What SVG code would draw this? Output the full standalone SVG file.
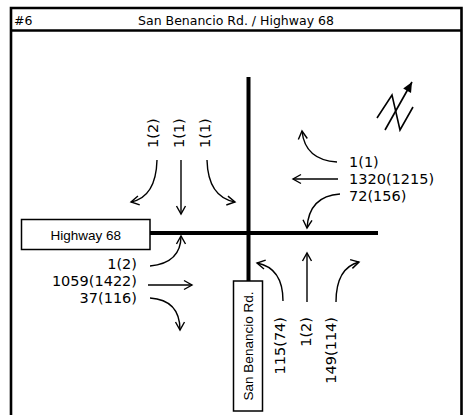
<svg xmlns="http://www.w3.org/2000/svg" width="469" height="415" viewBox="0 0 469 415">
<defs>
<style>
.frame{fill:none;stroke:#000;stroke-width:2.6}
.road{fill:none;stroke:#000;stroke-width:4}
.box{fill:#fff;stroke:#000;stroke-width:1.5}
.arr{fill:none;stroke:#000;stroke-width:1.4;marker-end:url(#ah)}
.vol{font-family:"DejaVu Sans",sans-serif;font-size:14.5px;fill:#000}
.name{font-family:"Liberation Sans",Arial,sans-serif;font-size:13.5px;fill:#000}
.title{font-family:"DejaVu Sans",sans-serif;font-size:12.5px;fill:#000}
</style>
<marker id="ah" viewBox="-10 -6 12 12" refX="0" refY="0" markerWidth="12" markerHeight="12" markerUnits="userSpaceOnUse" orient="auto" overflow="visible">
<path d="M-8,-4.5 L0,0 L-8,4.5" fill="none" stroke="#000" stroke-width="1.4"/>
</marker>
<marker id="nh" viewBox="-12 -6 14 12" refX="0" refY="0" markerWidth="14" markerHeight="12" markerUnits="userSpaceOnUse" orient="auto" overflow="visible">
<path d="M-10,-4.5 L0,0 L-10,4.5 Z" fill="#000"/>
</marker>
</defs>
<rect width="469" height="415" fill="#fff"/>
<g id="frame">
<path class="frame" d="M11,415 V8 H461.5 V415 M11,30.5 H461.5"/>
<text class="title" x="14" y="24.5">#6</text>
<text class="title" x="236" y="24.5" text-anchor="middle">San Benancio Rd. / Highway 68</text>
</g>
<g id="roads">
<path class="road" d="M248.5,77 V281 M150,233 H378"/>
</g>
<g id="highway68">
<rect class="box" x="21.5" y="219.5" width="128.5" height="30"/>
<text class="name" x="85.7" y="239.5" text-anchor="middle">Highway 68</text>
</g>
<g id="sanbenancio">
<rect class="box" x="233.5" y="281" width="29" height="130"/>
<text class="name" transform="translate(253,346) rotate(-90)" text-anchor="middle">San Benancio Rd.</text>
</g>
<g id="north">
<path d="M377,118 L392,95 L400,130 L413,107" fill="none" stroke="#000" stroke-width="1.6"/>
<path d="M385,130 L412,82" fill="none" stroke="#000" stroke-width="1.6" marker-end="url(#nh)"/>
</g>
<g id="connectors">
<path class="arr" d="M157,160 Q156,197 131,202"/>
<path class="arr" d="M181,160 L181,214"/>
<path class="arr" d="M207,160 Q208,197 235,202"/>
<path class="arr" d="M337,162 Q305,160 302,131"/>
<path class="arr" d="M338,179 L293,179"/>
<path class="arr" d="M340,194 Q309,196 307,228"/>
<path class="arr" d="M150,266 Q181,263 181,236"/>
<path class="arr" d="M148,285 L192,285"/>
<path class="arr" d="M150,298 Q180,300 180,330"/>
<path class="arr" d="M283,301 Q283,268 257,263"/>
<path class="arr" d="M307,302 L307,253"/>
<path class="arr" d="M336,302 Q336,268 359,262"/>
</g>
<g id="southbound">
<text class="vol" transform="translate(158,148) rotate(-90)">1(2)</text>
<text class="vol" transform="translate(183.5,148) rotate(-90)">1(1)</text>
<text class="vol" transform="translate(209.5,148) rotate(-90)">1(1)</text>
</g>
<g id="westbound">
<text class="vol" x="349" y="167">1(1)</text>
<text class="vol" x="349" y="184">1320(1215)</text>
<text class="vol" x="349" y="201">72(156)</text>
</g>
<g id="eastbound">
<text class="vol" x="137" y="269" text-anchor="end">1(2)</text>
<text class="vol" x="137" y="286" text-anchor="end">1059(1422)</text>
<text class="vol" x="137" y="303" text-anchor="end">37(116)</text>
</g>
<g id="northbound">
<text class="vol" transform="translate(285,317) rotate(-90)" text-anchor="end">115(74)</text>
<text class="vol" transform="translate(311,317) rotate(-90)" text-anchor="end">1(2)</text>
<text class="vol" transform="translate(336,317) rotate(-90)" text-anchor="end">149(114)</text>
</g>
</svg>
